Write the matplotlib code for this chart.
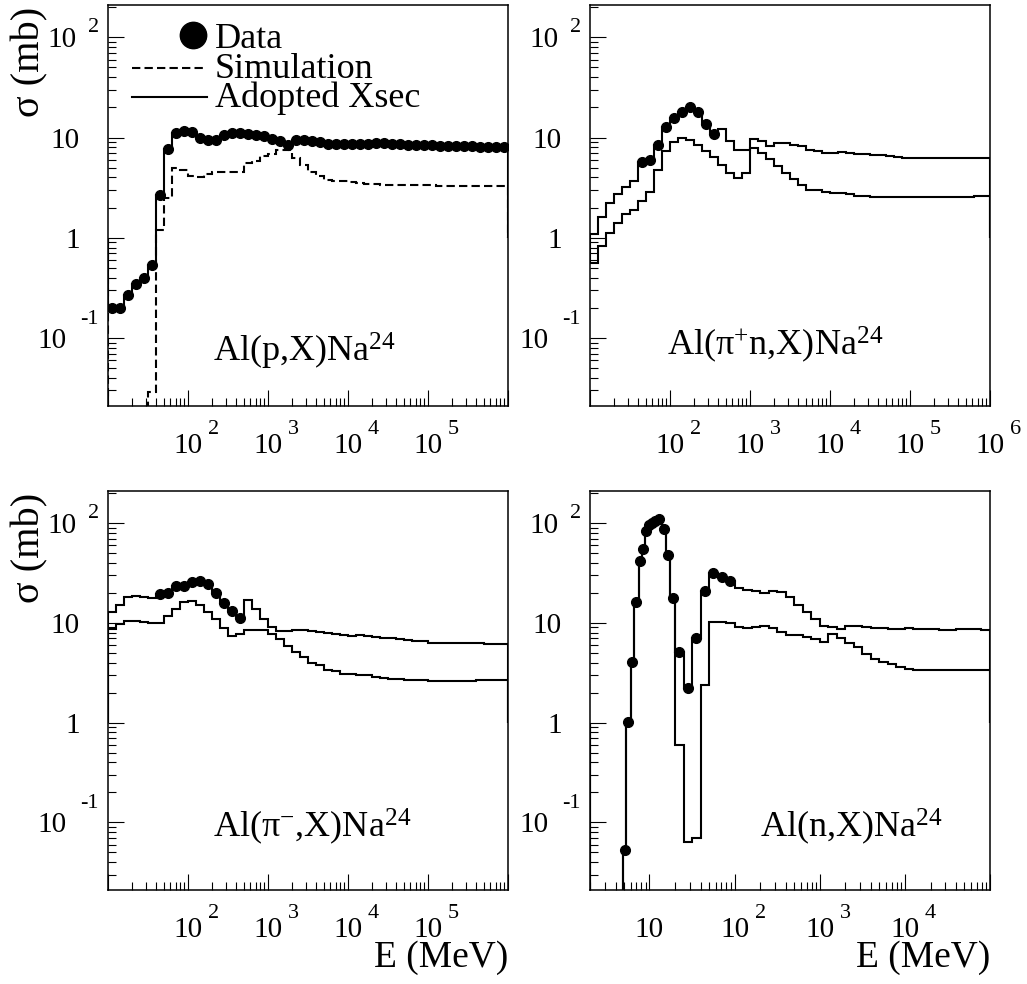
"""
Al -> Na24 production cross sections: data, simulation and adopted cross section.
Four log-log panels drawn as ROOT-style step histograms.
"""

import numpy as np
import matplotlib
matplotlib.use('Agg')
import matplotlib.pyplot as plt
from matplotlib.ticker import LogLocator, NullFormatter

plt.rcParams['font.family'] = ['Liberation Serif', 'DejaVu Serif']
plt.rcParams['mathtext.fontset'] = 'custom'
plt.rcParams['mathtext.rm'] = 'Liberation Serif'
plt.rcParams['mathtext.it'] = 'Liberation Serif:italic'
plt.rcParams['mathtext.bf'] = 'Liberation Serif:bold'

# ---------------- data (mb) ----------------
# panels 1-3: 10 bins per decade from 10 MeV to 1e6 MeV
edges_10_1e6 = np.logspace(1, 6, 51)

p_adopted = [0.2, 0.2, 0.27, 0.35, 0.40, 0.53, 2.7, 7.7, 11.1, 11.6,
             11.3, 9.9, 9.55, 9.4, 10.7, 11.1, 11.1, 10.9, 10.6, 10.3,
             9.7, 9.2, 8.5, 9.4, 9.4, 9.2, 9.0, 8.7, 8.7, 8.7,
             8.7, 8.7, 8.7, 8.8, 8.8, 8.7, 8.6, 8.5, 8.5, 8.4,
             8.4, 8.3, 8.3, 8.2, 8.2, 8.2, 8.1, 8.1, 8.0, 8.0]
p_sim = [0, 0, 0, 0, 0, 0.029, 1.21, 2.5, 5.0, 4.7,
         4.1, 4.0, 4.3, 4.5, 4.5, 4.5, 4.5, 5.6, 5.8, 6.6,
         6.9, 7.6, 7.5, 6.3, 5.3, 4.5, 4.1, 3.8, 3.7, 3.65,
         3.6, 3.5, 3.45, 3.45, 3.4, 3.4, 3.4, 3.35, 3.35, 3.35,
         3.35, 3.3, 3.3, 3.3, 3.3, 3.3, 3.3, 3.3, 3.3, 3.3]
p_data = p_adopted          # data point in every bin
p_data_first = 0

pip_adopted = [1.08, 1.62, 2.24, 2.71, 3.24, 3.69, 5.7, 6.0, 8.4, 12.8,
               15.6, 17.8, 20.0, 17.8, 13.6, 10.8, 12.1, 9.25, 7.5, 7.6,
               9.6, 9.25, 8.26, 8.8, 8.8, 8.5, 8.26, 7.6, 7.35, 7.0,
               7.0, 7.2, 7.0, 6.8, 6.8, 6.7, 6.65, 6.55, 6.45, 6.3,
               6.2, 6.2, 6.2, 6.2, 6.25, 6.25, 6.2, 6.25, 6.3, 6.3]
pip_sim = [0.56, 0.83, 1.12, 1.39, 1.71, 1.89, 2.33, 2.86, 4.75, 7.36,
           9.0, 10.0, 9.5, 8.4, 7.36, 6.45, 5.3, 4.4, 3.98, 4.47,
           7.9, 7.07, 6.16, 5.2, 4.47, 3.83, 3.34, 3.0, 3.0, 2.86,
           2.8, 2.77, 2.71, 2.6, 2.6, 2.57, 2.57, 2.55, 2.57, 2.53,
           2.53, 2.55, 2.57, 2.55, 2.55, 2.57, 2.53, 2.57, 2.6, 2.6]
pip_data = [5.7, 6.0, 8.4, 12.8, 15.6, 17.8, 20.0, 17.8, 13.6, 10.8]
pip_data_first = 6

pim_adopted = [12.8, 15.1, 18.1, 18.4, 18.1, 17.6, 19.5, 19.9, 23.6, 23.3,
               25.5, 26.5, 24.6, 19.9, 15.8, 13.3, 11.2, 17.1, 13.8, 11.0,
               9.0, 8.2, 8.2, 8.55, 8.4, 8.25, 8.1, 7.9, 7.7, 7.5,
               7.35, 7.5, 7.35, 7.25, 7.1, 7.0, 6.9, 6.8, 6.65, 6.55,
               6.3, 6.3, 6.3, 6.3, 6.27, 6.27, 6.27, 6.2, 6.2, 6.2]
pim_sim = [8.7, 9.77, 10.5, 10.5, 10.2, 9.9, 9.9, 11.7, 13.8, 16.3,
           16.7, 15.1, 12.8, 11.0, 8.8, 7.45, 7.7, 8.55, 8.55, 8.4,
           7.7, 6.9, 5.9, 5.1, 4.5, 4.0, 3.75, 3.4, 3.26, 3.1,
           3.1, 3.0, 2.97, 2.86, 2.8, 2.75, 2.75, 2.7, 2.7, 2.65,
           2.6, 2.6, 2.63, 2.6, 2.6, 2.6, 2.65, 2.65, 2.65, 2.65]
pim_data = [19.5, 19.9, 23.6, 23.3, 25.5, 26.5, 24.6, 19.9, 15.8, 13.3, 11.2]
pim_data_first = 6

# panel 4: irregular bins below 20 MeV, then 10 bins per decade up to 1e5 MeV
n_edges_low = [2, 4.9, 5.35, 6.0, 6.6, 7.45, 8.1, 8.8, 9.6, 10.4, 11.2, 12.0, 14.0, 15.8, 17.6]
n_edges = np.concatenate([n_edges_low, np.logspace(1.3, 5, 38)])
n_adopted = [0, 0.053, 1.02, 4.1, 16.2, 41.4, 54.5, 82.5, 94.8, 100.8,
             105.5, 110.5, 87.8, 47.5, 17.8,
             5.05, 2.2, 7.1, 20.9, 31.6, 28.6, 26.1,
             22.5, 21.5, 21.1, 19.9, 21.1, 20.5, 18.0, 15.1, 12.8, 11.0,
             9.4, 9.1, 8.7, 9.4, 9.25, 9.1, 8.9, 8.9, 8.7, 8.7,
             8.9, 8.7, 8.7, 8.7, 8.55, 8.55, 8.7, 8.7, 8.7, 8.55]
n_sim = [0, 0.053, 1.02, 4.1, 16.2, 41.4, 54.5, 82.5, 94.8, 100.8,
         105.5, 110.5, 87.8, 47.5, 17.8,
         0.59, 0.063, 0.07, 2.38, 10.2, 10.2, 9.9,
         9.1, 8.9, 9.1, 9.25, 8.9, 8.1, 7.5, 7.5, 7.2, 6.9,
         6.5, 7.8, 7.0, 6.3, 5.7, 4.9, 4.3, 4.1, 3.9, 3.6,
         3.47, 3.4, 3.4, 3.4, 3.4, 3.4, 3.4, 3.4, 3.4, 3.4]
n_data = [0.053, 1.02, 4.1, 16.2, 41.4, 54.5, 82.5, 94.8, 100.8, 105.5,
          110.5, 87.8, 47.5, 17.8, 5.05, 2.2, 7.1, 20.9, 31.6, 28.6, 26.1]
n_data_first = 1

# tick labels
ytick_vals = [0.1, 1, 10, 100]
ytick_base = ['10', '1', '10', '10']
ytick_exp = ['-1', '', '', '2']

xt_p_vals = [1e2, 1e3, 1e4, 1e5]
xt_p_exp = ['2', '3', '4', '5']
xt_pip_vals = [1e2, 1e3, 1e4, 1e5, 1e6]
xt_pip_exp = ['2', '3', '4', '5', '6']
xt_n_vals = [10, 1e2, 1e3, 1e4]
xt_n_exp = ['', '2', '3', '4']

# ---------------- figure ----------------
W, H = 1027, 984
fig = plt.figure(figsize=(W / 100, H / 100), dpi=100)


def add_panel(l, t, r, b):
    return fig.add_axes([l / W, 1 - b / H, (r - l) / W, (b - t) / H])


def lab(ax, s, xy, coords, dx, dy, size, ha='left', va='baseline'):
    ax.annotate(s, xy=xy, xycoords=coords, xytext=(dx, dy),
                textcoords='offset pixels', ha=ha, va=va, fontsize=size,
                annotation_clip=False)


def setup(ax, xlim, xvals, xexps):
    ax.set_xscale('log')
    ax.set_yscale('log')
    ax.set_xlim(*xlim)
    ax.set_ylim(0.021, 210)
    for a in (ax.xaxis, ax.yaxis):
        a.set_major_locator(LogLocator(base=10, numticks=100))
        a.set_minor_locator(LogLocator(base=10, subs=np.arange(2, 10), numticks=100))
        a.set_minor_formatter(NullFormatter())
    ax.tick_params(which='major', direction='in', length=11.5, width=0.8,
                   labelbottom=False, labelleft=False)
    ax.tick_params(which='minor', direction='in', length=5.8, width=0.8)
    for sp in ax.spines.values():
        sp.set_linewidth(1.1)
    # y labels (ROOT style "10 ^n")
    for v, b, e in zip(ytick_vals, ytick_base, ytick_exp):
        yc = ('axes fraction', 'data')
        if e == '':
            lab(ax, b, (0, v), yc, -28, -10, 21, ha='right')
        elif e == '2':
            lab(ax, b, (0, v), yc, -31, -10, 21, ha='right')
            lab(ax, e, (0, v), yc, -20, 5, 16)
        else:
            lab(ax, b, (0, v), yc, -41, -10, 21, ha='right')
            lab(ax, e, (0, v), yc, -28, 14, 16)
    # x labels
    for v, e in zip(xvals, xexps):
        xc = ('data', 'axes fraction')
        lab(ax, '10', (v, 0), xc, 0, -47, 21, ha='center')
        if e:
            lab(ax, e, (v, 0), xc, 20, -28, 16)


def draw(ax, edges, adopted, sim, data, first, sim_style='-'):
    ax.stairs(adopted, edges, baseline=1, color='k', lw=1.5)
    ax.stairs(sim, edges, baseline=1, color='k', lw=1.5, linestyle=sim_style)
    e = np.asarray(edges)
    centers = np.sqrt(e[:-1] * e[1:])
    xc = centers[first:first + len(data)]
    ax.plot(xc, data, 'o', color='k', ms=7, zorder=5)


ax1 = add_panel(108, 5, 508, 406)
ax2 = add_panel(590, 5, 990, 406)
ax3 = add_panel(108, 491, 508, 890)
ax4 = add_panel(590, 491, 990, 890)

draw(ax1, edges_10_1e6, p_adopted, p_sim, p_data, p_data_first, sim_style=(0, (4, 2)))
draw(ax2, edges_10_1e6, pip_adopted, pip_sim, pip_data, pip_data_first)
draw(ax3, edges_10_1e6, pim_adopted, pim_sim, pim_data, pim_data_first)
draw(ax4, n_edges, n_adopted, n_sim, n_data, n_data_first)

setup(ax1, (10, 1e6), xt_p_vals, xt_p_exp)
setup(ax2, (10, 1e6), xt_pip_vals, xt_pip_exp)
setup(ax3, (10, 1e6), xt_p_vals, xt_p_exp)
setup(ax4, (2, 1e5), xt_n_vals, xt_n_exp)

# reaction labels
ax1.text(0.2625, 0.11, 'Al(p,X)Na$^{24}$', transform=ax1.transAxes, fontsize=26)
ax2.text(0.1925, 0.127, 'Al(π$^{+}$n,X)Na$^{24}$', transform=ax2.transAxes, fontsize=26)
ax3.text(0.2625, 0.133, 'Al(π$^{-}$,X)Na$^{24}$', transform=ax3.transAxes, fontsize=26)
ax4.text(0.425, 0.133, 'Al(n,X)Na$^{24}$', transform=ax4.transAxes, fontsize=26)

# axis titles
for ax in (ax1, ax3):
    ax.text(-0.195, 0.995, 'σ (mb)', transform=ax.transAxes, rotation=90,
            ha='center', va='top', fontsize=29)
for ax in (ax3, ax4):
    ax.text(1.0, -77 / 399, 'E (MeV)', transform=ax.transAxes,
            ha='right', va='baseline', fontsize=27)

# legend (first panel)
ax1.plot([0.2125], [0.925], 'o', color='k', ms=19, transform=ax1.transAxes, clip_on=False)
ax1.plot([0.06, 0.2475], [0.843, 0.843], color='k', lw=1.5, ls=(0, (4, 2)),
         transform=ax1.transAxes)
ax1.plot([0.06, 0.2475], [0.7706, 0.7706], color='k', lw=1.5, transform=ax1.transAxes)
for y, s in zip([0.893, 0.818, 0.745], ['Data', 'Simulation', 'Adopted Xsec']):
    ax1.text(0.2675, y, s, transform=ax1.transAxes, fontsize=26, va='baseline')

fig.savefig('out.png', dpi=100)
